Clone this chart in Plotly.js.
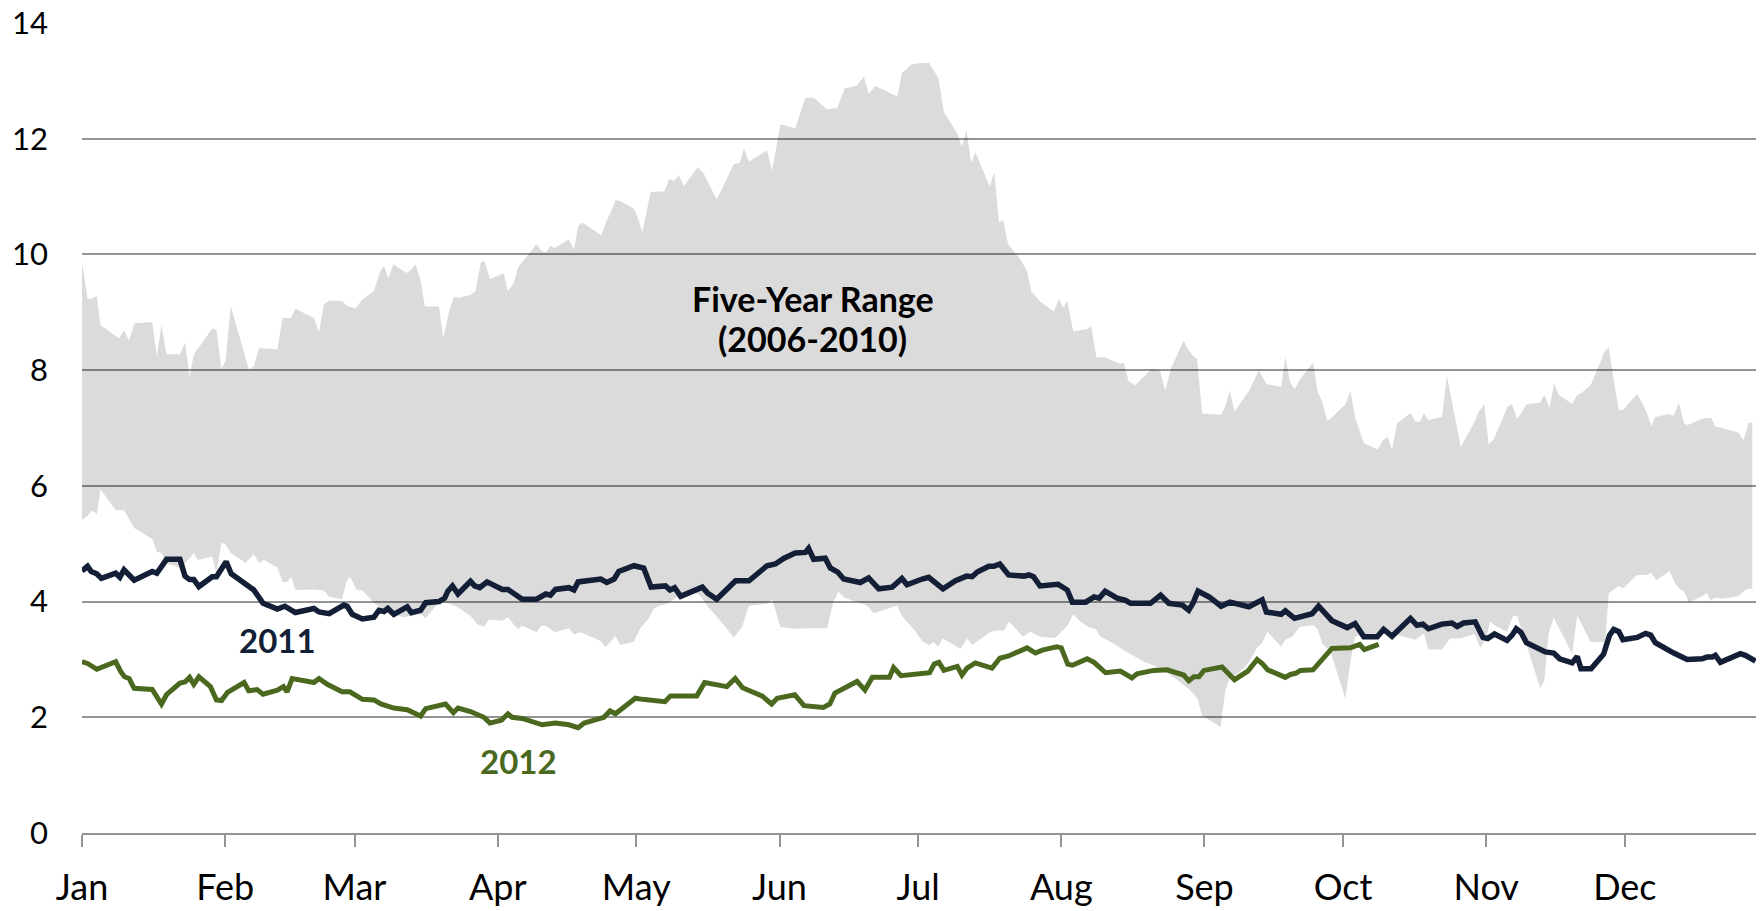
<!DOCTYPE html>
<html>
<head>
<meta charset="utf-8">
<script src="https://cdn.plot.ly/plotly-3.0.1.min.js"></script>
<style>html,body{margin:0;padding:0;background:#fff;}#chart{width:1763px;height:911px;}</style>
</head>
<body>
<div id="chart"></div>
<script>
// x values are day-of-year (0 = Jan 1)
const monthTickDays = [0,31,59,90,120,151,181,212,243,273,304,334];
const monthLabels = ["Jan","Feb","Mar","Apr","May","Jun","Jul","Aug","Sep","Oct","Nov","Dec"];

// Five-year range upper edge
const rangeHighDays = [0,1.2,2.2,3.2,4.0,8.0,9.1,10.2,11.3,15.2,16.2,17.2,18.3,21.2,22.3,23.3,24.2,28.2,29.1,30.2,31.1,32.2,36.1,37.2,38.3,42.3,43.4,45.2,46.2,50.2,51.3,52.4,53.5,56.3,57.4,59.2,60.7,63.2,64.5,65.4,66.3,67.4,70.3,71.3,72.2,73.3,74.2,77.3,78.2,79.4,80.5,81.6,84.1,85.2,86.3,87.1,88.3,91.3,92.2,93.4,94.4,98.4,99.4,100.4,101.4,102.3,105.4,106.5,107.4,108.3,112.4,113.6,114.4,115.5,116.6,119.5,120.4,121.3,123.1,126.1,127.1,128.1,129.2,130.3,133.3,134.6,137.4,141.1,142.4,143.3,144.4,148.3,149.4,151.2,154.4,156.6,158.4,161.3,163.5,165.1,167.7,169.3,170.3,171.8,176.5,177.5,179.7,181.9,183.4,185.4,186.6,189.5,190.5,191.5,192.5,193.4,196.5,197.5,198.5,199.4,200.5,203.2,204.6,205.5,207.5,210.4,211.5,212.4,213.3,214.6,217.6,218.5,219.6,221.6,224.7,225.5,226.6,228.0,231.5,233.4,234.5,235.8,238.5,239.6,240.7,241.4,242.5,246.6,247.5,248.5,249.5,252.6,254.8,256.4,259.6,260.5,261.5,262.5,263.6,266.5,267.5,268.5,269.6,270.6,273.5,274.6,275.6,277.5,278.8,280.5,281.5,282.7,283.6,284.7,287.6,288.7,289.7,290.5,291.5,294.4,295.5,297.3,298.5,301.3,302.4,303.6,304.5,305.6,308.7,309.6,310.7,311.5,312.7,315.6,316.6,317.7,318.7,319.7,322.6,323.7,324.5,326.6,327.4,328.6,329.6,330.5,331.5,332.7,333.6,336.7,338.7,339.7,340.6,343.5,344.6,345.7,346.8,347.6,350.7,352.7,353.6,354.7,358.6,359.7,360.8,361.6];
const rangeHighVals = [9.87,9.24,9.24,9.28,8.78,8.55,8.69,8.51,8.81,8.83,8.23,8.78,8.28,8.27,8.48,7.89,8.27,8.72,8.70,8.03,8.17,9.11,8.02,8.06,8.38,8.36,8.90,8.90,9.06,8.90,8.66,9.14,9.20,9.20,9.11,9.07,9.22,9.37,9.70,9.80,9.58,9.83,9.68,9.74,9.83,9.56,9.10,9.10,8.55,8.99,9.27,9.25,9.30,9.37,9.85,9.89,9.58,9.67,9.37,9.49,9.78,10.18,10.07,10.03,10.15,10.11,10.26,10.08,10.49,10.55,10.33,10.59,10.71,10.94,10.92,10.79,10.62,10.38,11.08,11.09,11.31,11.27,11.37,11.18,11.51,11.40,10.95,11.56,11.59,11.83,11.60,11.80,11.45,12.25,12.18,12.71,12.71,12.51,12.53,12.87,12.92,13.07,12.78,12.91,12.73,13.13,13.29,13.31,13.31,13.05,12.46,12.09,11.86,12.14,11.58,11.77,11.18,11.42,10.56,10.59,10.17,9.91,9.71,9.36,9.18,9.02,9.23,9.08,9.20,8.67,8.71,8.76,8.22,8.22,8.11,8.13,7.81,7.74,8.02,7.99,7.65,8.04,8.51,8.34,8.23,8.20,7.25,7.23,7.38,7.65,7.28,7.64,8.00,7.76,7.71,8.23,7.80,7.67,7.83,8.13,7.63,7.45,7.12,7.18,7.41,7.63,7.18,6.74,6.69,6.63,6.78,6.85,6.63,7.08,7.26,7.11,7.11,7.26,7.14,7.19,7.90,7.14,6.67,7.08,7.28,7.41,6.72,6.80,7.38,7.41,7.16,7.25,7.41,7.44,7.57,7.35,7.77,7.57,7.42,7.57,7.60,7.74,7.88,8.12,8.32,8.40,7.88,7.31,7.31,7.59,7.28,7.03,7.19,7.24,7.21,7.44,7.08,7.05,7.16,7.18,7.02,7.01,6.92,6.79,7.09,7.09];

// Five-year range lower edge
const rangeLowDays = [0,1.2,2.2,3.2,4.0,7.3,9.1,11.3,15.2,16.2,17.2,18.3,21.2,22.3,23.3,24.2,25.0,28.2,29.1,30.2,31.1,32.2,35.4,37.2,38.3,39.4,42.3,43.4,44.4,45.3,46.2,50.2,52.4,53.5,56.3,57.4,58.1,59.4,60.7,63.2,66.1,69.7,73.3,74.4,77.6,81.2,84.1,85.6,87.0,88.1,91.0,92.2,93.4,94.4,95.3,98.4,99.4,100.4,102.3,105.4,106.5,107.9,112.3,113.4,114.3,115.5,116.5,119.4,120.9,122.7,123.8,125.2,126.7,129.5,132.1,133.9,135.7,136.8,139.3,141.1,142.9,144.4,148.3,149.4,151.2,154.4,157.7,161.3,162.7,163.8,164.9,169.9,171.4,176.5,177.5,180.0,181.9,183.3,184.4,185.3,186.4,190.2,191.6,192.7,196.7,197.8,199.6,200.6,201.7,203.7,205.3,207.5,210.7,213.3,214.6,216.2,218.0,219.4,220.5,223.4,225.5,227.3,229.9,233.4,237.1,240.0,241.5,242.5,246.5,247.5,248.3,252.2,254.4,255.5,256.6,259.6,260.5,262.0,263.6,266.6,267.5,268.5,270.3,273.5,274.6,275.6,280.0,283.6,286.9,288.7,290.5,291.5,294.4,296.2,298.4,301.5,302.7,304.0,304.8,305.8,308.5,309.8,310.7,312.7,315.7,316.6,317.5,318.6,322.6,323.7,326.6,329.8,330.5,332.7,333.6,336.7,338.7,339.7,340.8,343.7,344.9,346.0,346.8,347.9,350.7,351.7,352.6,353.6,355.0,358.6,359.7,360.8,361.6];
const rangeLowVals = [5.41,5.48,5.58,5.51,5.94,5.58,5.58,5.27,5.08,4.86,4.84,4.66,4.59,4.66,4.75,4.84,4.72,4.78,4.49,5.02,4.98,4.84,4.67,4.82,4.67,4.72,4.59,4.34,4.34,4.43,4.20,4.21,4.19,4.08,4.04,4.38,4.42,4.21,4.19,3.98,3.81,3.73,3.78,3.71,4.02,3.91,3.75,3.61,3.56,3.69,3.67,3.73,3.61,3.52,3.58,3.47,3.58,3.58,3.47,3.54,3.43,3.47,3.32,3.21,3.30,3.40,3.25,3.30,3.54,3.71,3.88,3.93,3.96,4.12,4.20,4.09,3.89,3.80,3.56,3.38,3.56,3.93,3.96,4.04,3.56,3.53,3.54,3.54,4.00,4.17,4.07,3.93,3.80,3.93,3.75,3.53,3.32,3.25,3.30,3.22,3.36,3.18,3.36,3.25,3.48,3.50,3.50,3.65,3.57,3.39,3.48,3.39,3.37,3.58,3.78,3.65,3.55,3.53,3.39,3.27,3.16,3.08,2.96,2.85,2.65,2.46,2.32,2.03,1.83,2.46,2.64,2.90,3.20,3.29,3.48,3.22,3.34,3.39,3.56,3.59,3.52,3.27,3.13,2.32,2.96,3.39,3.45,3.45,3.38,3.34,3.45,3.17,3.17,3.36,3.36,3.44,3.20,3.36,3.65,3.59,3.48,3.75,3.75,3.24,2.50,2.64,3.45,3.72,3.10,3.76,3.30,3.30,4.14,4.27,4.23,4.46,4.46,4.50,4.37,4.53,4.31,4.21,4.18,3.99,4.09,4.15,4.02,4.07,4.05,4.09,4.18,4.22,4.22];

// 2011
const days2011 = [0,1.2,2,3.2,4.2,7.3,8.2,9.1,11.3,15.2,16.2,17.2,18.3,21.2,22.3,23.3,24.2,25.3,28.2,29.1,30.2,31.2,32.3,35.1,36.1,37.2,39.2,42.3,43.9,46.2,50.2,51.3,53.5,56.7,57.4,58.5,60.7,63.2,64.3,65.4,66.2,67.5,70.4,71.3,73.3,74.4,77.3,78.5,79.2,80.2,81.4,84.1,85.0,86.1,87.7,91.0,92.2,95.3,98.4,100.4,101.4,102.5,105.4,106.5,107.4,112.3,113.6,115.2,116.2,119.5,121.6,123.2,126.3,127.3,128.3,129.6,134.3,135.4,137.4,141.5,144.4,148.3,150.1,152.0,154.4,156.6,157.3,158.4,160.9,162.0,163.6,164.9,168.5,170.3,172.5,175.4,177.5,178.6,181.9,183.3,186.4,189.1,191.5,192.7,193.8,196.3,197.4,198.7,200.6,203.9,205.0,206.0,207.4,211.3,213.3,214.4,217.3,219.1,220.2,221.5,224.1,225.9,227.0,231.3,233.5,235.3,238.2,239.6,240.5,241.6,244.0,246.6,248.5,252.6,255.5,256.4,259.6,260.5,262.5,266.3,267.7,269.2,270.6,273.9,275.6,277.5,280.4,281.8,283.6,287.6,289.0,290.3,291.5,294.4,296.6,297.7,299.1,301.6,303.3,304.3,305.8,308.5,309.6,310.5,311.5,312.7,316.8,318.6,319.9,322.6,323.7,324.5,326.7,329.4,330.7,331.6,332.7,333.6,336.7,338.5,339.6,340.6,343.9,344.6,347.5,350.7,351.8,352.9,353.6,354.7,359.0,360.1,362.3];
const vals2011 = [4.53,4.61,4.52,4.48,4.40,4.49,4.42,4.55,4.37,4.52,4.49,4.60,4.73,4.73,4.44,4.38,4.38,4.26,4.43,4.43,4.55,4.69,4.48,4.33,4.25,4.20,3.97,3.87,3.92,3.81,3.88,3.82,3.79,3.94,3.92,3.78,3.70,3.73,3.85,3.83,3.88,3.78,3.91,3.81,3.85,3.98,4.00,4.06,4.18,4.27,4.13,4.35,4.27,4.24,4.34,4.21,4.21,4.04,4.04,4.13,4.11,4.21,4.24,4.20,4.34,4.39,4.33,4.39,4.52,4.62,4.58,4.25,4.27,4.20,4.24,4.09,4.25,4.15,4.04,4.36,4.36,4.62,4.65,4.75,4.84,4.85,4.92,4.73,4.75,4.58,4.51,4.39,4.33,4.41,4.22,4.25,4.40,4.29,4.39,4.42,4.22,4.36,4.44,4.43,4.51,4.61,4.61,4.65,4.46,4.44,4.46,4.43,4.27,4.30,4.20,3.99,3.99,4.08,4.06,4.18,4.06,4.02,3.97,3.97,4.11,3.97,3.94,3.85,3.97,4.18,4.08,3.92,3.99,3.91,4.03,3.82,3.78,3.84,3.71,3.79,3.92,3.79,3.67,3.55,3.62,3.39,3.39,3.52,3.40,3.71,3.59,3.61,3.53,3.61,3.63,3.57,3.63,3.65,3.38,3.36,3.44,3.33,3.42,3.53,3.47,3.29,3.13,3.11,3.01,2.94,3.05,2.84,2.84,3.09,3.42,3.52,3.48,3.34,3.38,3.45,3.42,3.29,3.13,3.11,3.00,3.01,3.04,3.04,3.07,2.95,3.10,3.07,2.97];

// 2012
const days2012 = [0,1.2,3.2,7.3,8.4,9.2,10.2,11.3,15.2,17.2,18.3,21.2,22.3,23.3,24.2,25.3,27.8,29.1,30.2,31.5,35.1,36.1,37.9,39.2,42.3,43.6,44.4,45.5,50.2,51.3,53.1,56.3,58.0,60.7,63.2,64.7,67.5,70.4,73.3,74.4,78.7,80.4,81.4,84.1,87.0,88.3,90.8,92.2,93.1,95.3,99.6,102.5,105.4,107.4,108.7,113.0,114.3,115.5,119.8,121.3,126.2,127.4,133.1,134.8,139.6,141.4,143.0,147.2,149.3,150.5,154.3,156.3,160.5,161.9,163.0,167.8,169.5,171.1,174.8,175.7,177.3,180.1,183.5,184.5,185.5,186.6,189.5,190.5,191.6,193.4,197.0,198.7,200.6,204.6,206.4,207.9,211.0,212.0,213.4,214.4,217.6,219.1,221.6,224.8,226.3,227.3,228.4,232.0,234.9,237.8,238.5,239.6,240.7,241.8,242.9,246.8,247.9,249.5,252.4,254.4,255.5,256.7,260.5,261.6,262.7,263.8,266.5,268.5,270.6,274.6,276.6,277.6,279.3,280.7];
const vals2012 = [2.96,2.93,2.83,2.96,2.79,2.70,2.67,2.50,2.48,2.23,2.39,2.59,2.61,2.69,2.57,2.70,2.53,2.30,2.29,2.43,2.60,2.46,2.48,2.40,2.47,2.53,2.44,2.67,2.60,2.67,2.57,2.44,2.44,2.31,2.30,2.23,2.16,2.13,2.02,2.15,2.23,2.08,2.16,2.10,2.00,1.90,1.95,2.06,2.00,1.98,1.87,1.90,1.87,1.82,1.90,2.00,2.11,2.06,2.33,2.31,2.27,2.37,2.37,2.60,2.53,2.67,2.51,2.37,2.23,2.33,2.39,2.20,2.17,2.23,2.42,2.62,2.47,2.69,2.69,2.86,2.72,2.74,2.77,2.92,2.95,2.81,2.88,2.73,2.85,2.94,2.85,3.02,3.06,3.20,3.11,3.16,3.22,3.20,2.92,2.90,3.01,2.95,2.77,2.80,2.74,2.68,2.75,2.81,2.82,2.75,2.73,2.63,2.70,2.70,2.81,2.87,2.78,2.65,2.80,3.00,2.93,2.82,2.69,2.74,2.76,2.81,2.82,3.01,3.19,3.20,3.26,3.17,3.22,3.26];

const FONT = "Lato, 'Open Sans', 'Liberation Sans', sans-serif";

const traces = [
  {x: rangeLowDays, y: rangeLowVals, type: "scatter", mode: "lines",
   line: {width: 0, color: "rgba(0,0,0,0)"}, hoverinfo: "skip", showlegend: false},
  {x: rangeHighDays, y: rangeHighVals, type: "scatter", mode: "lines", fill: "tonexty",
   fillcolor: "rgba(0,0,0,0.14)", line: {width: 0, color: "rgba(0,0,0,0)"}, name: "Five-Year Range", showlegend: false},
  {x: days2011, y: vals2011, type: "scatter", mode: "lines",
   line: {color: "#131e37", width: 5.5, shape: "linear"}, name: "2011", showlegend: false},
  {x: days2012, y: vals2012, type: "scatter", mode: "lines",
   line: {color: "#4a691e", width: 5, shape: "linear"}, name: "2012", showlegend: false}
];

const layout = {
  width: 1763, height: 911,
  margin: {l: 82, r: 7, t: 23, b: 78, pad: 0},
  paper_bgcolor: "#ffffff", plot_bgcolor: "#ffffff",
  showlegend: false,
  font: {family: FONT, color: "#000000"},
  xaxis: {
    range: [0, 362.4], tickmode: "array", tickvals: monthTickDays, ticktext: monthLabels,
    ticks: "outside", ticklen: 12, tickwidth: 2, tickcolor: "#939393",
    showline: true, linecolor: "#939393", linewidth: 2,
    showgrid: false, zeroline: false, fixedrange: true,
    tickfont: {family: FONT, size: 36, color: "#000000"}, ticklabelstandoff: 10
  },
  yaxis: {
    range: [0, 14], tickmode: "array", tickvals: [0,2,4,6,8,10,12,14],
    showgrid: true, gridcolor: "#939393", gridwidth: 2, zeroline: false,
    showline: false, ticks: "", fixedrange: true,
    tickfont: {family: FONT, size: 31, color: "#000000"}, ticklabelstandoff: 33
  },
  annotations: [
    {x: 158.2, y: 9.23, xref: "x", yref: "y", showarrow: false,
     text: "<b>Five-Year Range</b>",
     font: {family: FONT, size: 34, color: "#000000"}, align: "center"},
    {x: 158.2, y: 8.54, xref: "x", yref: "y", showarrow: false,
     text: "<b>(2006-2010)</b>",
     font: {family: FONT, size: 34, color: "#000000"}, align: "center"},
    {x: 42.4, y: 3.33, xref: "x", yref: "y", showarrow: false, text: "<b>2011</b>",
     font: {family: FONT, size: 33, color: "#131e37"}},
    {x: 94.4, y: 1.24, xref: "x", yref: "y", showarrow: false, text: "<b>2012</b>",
     font: {family: FONT, size: 33, color: "#4a691e"}}
  ]
};

Plotly.newPlot("chart", traces, layout, {displayModeBar: false, staticPlot: true});
</script>
</body>
</html>
